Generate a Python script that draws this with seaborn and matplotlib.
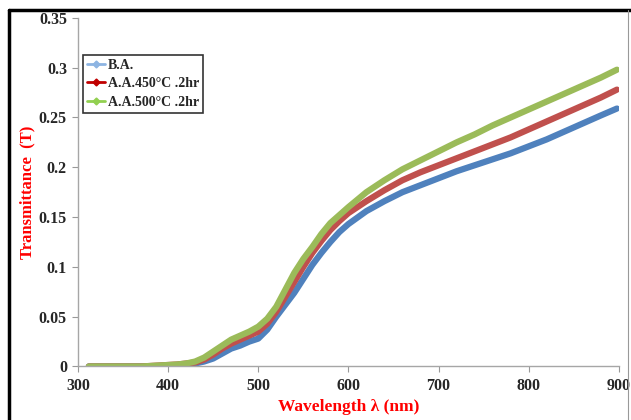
import seaborn as sns
import matplotlib.pyplot as plt
import pandas as pd
from matplotlib.lines import Line2D

# wavelength (nm) and transmittance for each sample
wl = [312, 330, 350, 370, 390, 410, 420, 430, 440, 450, 460, 470, 480, 490,
      500, 510, 520, 530, 540, 550, 560, 570, 580, 590, 600, 620, 640, 660,
      680, 700, 720, 740, 760, 780, 800, 820, 840, 860, 880, 898]
t_ba = [0.000, 0.000, 0.000, 0.000, 0.000, 0.001, 0.002, 0.003, 0.005, 0.008,
        0.013, 0.018, 0.021, 0.025, 0.028, 0.037, 0.050, 0.062, 0.074, 0.088,
        0.102, 0.114, 0.125, 0.135, 0.143, 0.156, 0.166, 0.175, 0.182, 0.189,
        0.196, 0.202, 0.208, 0.214, 0.221, 0.228, 0.236, 0.244, 0.252, 0.259]
t_450 = [0.000, 0.000, 0.000, 0.000, 0.001, 0.002, 0.003, 0.004, 0.007, 0.012,
         0.018, 0.023, 0.027, 0.031, 0.035, 0.043, 0.055, 0.070, 0.085, 0.100,
         0.114, 0.126, 0.137, 0.146, 0.154, 0.166, 0.177, 0.187, 0.195, 0.202,
         0.209, 0.216, 0.223, 0.230, 0.238, 0.246, 0.254, 0.262, 0.270, 0.278]
t_500 = [0.000, 0.000, 0.000, 0.000, 0.001, 0.002, 0.003, 0.005, 0.009, 0.015,
         0.021, 0.027, 0.031, 0.035, 0.040, 0.048, 0.060, 0.077, 0.094, 0.108,
         0.120, 0.133, 0.144, 0.152, 0.160, 0.175, 0.187, 0.198, 0.207, 0.216,
         0.225, 0.233, 0.242, 0.250, 0.258, 0.266, 0.274, 0.282, 0.290, 0.298]
labels = ['B.A.', 'A.A.450°C .2hr', 'A.A.500°C .2hr']
line_colors = ['#4f81bd', '#c0504d', '#9bbb59']
legend_colors = ['#8db4e2', '#c00000', '#92d050']

df = pd.concat([
    pd.DataFrame({'wl': wl, 'T': t, 'sample': lab})
    for t, lab in zip([t_ba, t_450, t_500], labels)
])

sns.set_style('white')
plt.rcParams['font.family'] = ['Liberation Serif', 'DejaVu Serif']
plt.rcParams['font.weight'] = 'bold'

fig = plt.figure(figsize=(6.31, 4.2), dpi=100)
ax = fig.add_axes([0.1236, 0.1274, 0.857, 0.830])
sns.lineplot(data=df, x='wl', y='T', hue='sample', palette=line_colors,
             linewidth=4.5, legend=False, ax=ax)

ax.set_xlim(300, 900)
ax.set_ylim(0, 0.35)
ax.set_xticks(range(300, 901, 100))
ax.set_yticks([0, 0.05, 0.1, 0.15, 0.2, 0.25, 0.3, 0.35])
ax.set_yticklabels(['0', '0.05', '0.1', '0.15', '0.2', '0.25', '0.3', '0.35'])
ax.tick_params(labelsize=11.5, length=4, color='#999999', direction='out',
               left=True, bottom=True, pad=4)
for lab in ax.get_xticklabels() + ax.get_yticklabels():
    lab.set_fontweight('bold')
sns.despine(ax=ax)
for s in ['left', 'bottom']:
    ax.spines[s].set_color('#a6a6a6')
    ax.spines[s].set_linewidth(1.0)

ax.set_xlabel('Wavelength λ (nm)', color='red', fontsize=12.5, fontweight='bold', labelpad=4)
ax.set_ylabel('Transmittance  (T)', color='red', fontsize=12, fontweight='bold', labelpad=2)

handles = [Line2D([0], [0], color=c, lw=2, marker='D', markersize=3.5)
           for c in legend_colors]
leg = ax.legend(handles, labels, loc='upper left', bbox_to_anchor=(0.009, 0.894),
                borderaxespad=0, fancybox=False, frameon=True, handlelength=1.3,
                handletextpad=0.2, labelspacing=0.38, borderpad=0.3,
                prop={'size': 10, 'weight': 'bold'})
leg.get_frame().set_edgecolor('black')
leg.get_frame().set_linewidth(1.2)

# outer frame of the original picture
fig.add_artist(Line2D([0.0143, 0.0143], [0, 0.976], color='black', lw=2.5,
                      transform=fig.transFigure))
fig.add_artist(Line2D([0.0143, 1.0], [0.976, 0.976], color='black', lw=2.5,
                      transform=fig.transFigure))
fig.add_artist(Line2D([0.996, 0.996], [0, 0.976], color='#999999', lw=0.8,
                      transform=fig.transFigure))

plt.savefig('out.png', dpi=100)
